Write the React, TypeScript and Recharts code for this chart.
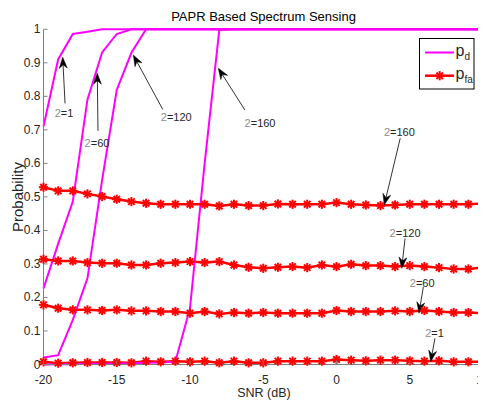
import React from 'react';
import { LineChart, Line, XAxis, YAxis, Legend, ReferenceLine, ReferenceDot, Customized } from 'recharts';

const snr = [-20, -19, -18, -17, -16, -15, -14, -13, -12, -11, -10, -9, -8, -7, -6, -5, -4, -3, -2, -1, 0, 1, 2, 3, 4, 5, 6, 7, 8, 9, 10];

const pd1 = [0.71, 0.91, 0.986, 0.993, 1, 1, 1, 1, 1, 1, 1, 1, 1, 1, 1, 1, 1, 1, 1, 1, 1, 1, 1, 1, 1, 1, 1, 1, 1, 1, 1];
const pd60 = [0.227, 0.36, 0.486, 0.79, 0.931, 0.986, 1, 1, 1, 1, 1, 1, 1, 1, 1, 1, 1, 1, 1, 1, 1, 1, 1, 1, 1, 1, 1, 1, 1, 1, 1];
const pd120 = [0.021, 0.028, 0.133, 0.257, 0.55, 0.819, 0.93, 1, 1, 1, 1, 1, 1, 1, 1, 1, 1, 1, 1, 1, 1, 1, 1, 1, 1, 1, 1, 1, 1, 1, 1];
const pd160 = [0, 0.001, 0.001, 0.002, 0.003, 0.003, 0.004, 0.005, 0.006, 0.008, 0.168, 0.6, 0.998, 1, 1, 1, 1, 1, 1, 1, 1, 1, 1, 1, 1, 1, 1, 1, 1, 1, 1];

const pfa1 = [0.008, 0.004, 0.005, 0.006, 0.006, 0.006, 0.005, 0.01, 0.008, 0.01, 0.008, 0.01, 0.005, 0.01, 0.005, 0.005, 0.01, 0.01, 0.01, 0.01, 0.015, 0.013, 0.011, 0.013, 0.013, 0.011, 0.01, 0.011, 0.008, 0.008, 0.008];
const pfa60 = [0.178, 0.168, 0.163, 0.163, 0.161, 0.163, 0.16, 0.16, 0.158, 0.158, 0.153, 0.158, 0.151, 0.155, 0.153, 0.155, 0.153, 0.153, 0.153, 0.153, 0.161, 0.158, 0.158, 0.158, 0.16, 0.158, 0.161, 0.158, 0.155, 0.155, 0.153];
const pfa120 = [0.314, 0.309, 0.309, 0.304, 0.302, 0.302, 0.297, 0.297, 0.302, 0.304, 0.307, 0.304, 0.307, 0.297, 0.29, 0.287, 0.29, 0.292, 0.289, 0.297, 0.292, 0.299, 0.295, 0.295, 0.292, 0.295, 0.292, 0.289, 0.285, 0.285, 0.289];
const pfa160 = [0.529, 0.518, 0.518, 0.509, 0.501, 0.493, 0.486, 0.481, 0.478, 0.478, 0.478, 0.478, 0.473, 0.478, 0.474, 0.474, 0.479, 0.478, 0.478, 0.478, 0.483, 0.478, 0.476, 0.474, 0.476, 0.478, 0.478, 0.478, 0.478, 0.478, 0.48];

const xTicks = [-20, -15, -10, -5, 0, 5, 10];
const yTicks = [0, 0.1, 0.2, 0.3, 0.4, 0.5, 0.6, 0.7, 0.8, 0.9, 1];

// annotation: text position + arrow from tail (x1,y1) to tip (x2,y2), data coordinates
const annLabels = ['1', '60', '120', '160', '160', '120', '60', '1'];
const annText = [[-18.6, 0.751], [-16.35, 0.662], [-10.94, 0.737], [-5.22, 0.721], [4.29, 0.695], [4.68, 0.391], [5.85, 0.244], [6.69, 0.095]];
const annTail = [[-18.53, 0.779], [-16.28, 0.697], [-11.86, 0.761], [-6.25, 0.759], [4.35, 0.675], [4.68, 0.376], [5.93, 0.232], [6.72, 0.078]];
const annTip = [[-18.69, 0.9165], [-16.33, 0.869], [-13.87, 0.923], [-8.07, 0.884], [3.26, 0.476], [4.45, 0.287], [5.63, 0.153], [6.43, 0.0085]];

const data = snr.map((s, i) => ({
  snr: s,
  pd1: pd1[i], pfa1: pfa1[i],
  pd60: pd60[i], pfa60: pfa60[i],
  pd120: pd120[i], pfa120: pfa120[i],
  pd160: pd160[i], pfa160: pfa160[i],
}));

const FONT = "'Liberation Sans Narrow', 'Arial Narrow', Arial, 'Liberation Sans', sans-serif";
const MAGENTA = '#FF00FF';
const RED = '#FF0000';
const AXIS = '#808080';
const TEXT = '#262626';

const Star = ({ cx, cy, size = 4.6 }: { cx: number; cy: number; size?: number }) => {
  const d = size * 0.7071;
  return (
    <g stroke={RED} strokeWidth={2}>
      <line x1={cx - size} y1={cy} x2={cx + size} y2={cy} />
      <line x1={cx} y1={cy - size} x2={cx} y2={cy + size} />
      <line x1={cx - d} y1={cy - d} x2={cx + d} y2={cy + d} />
      <line x1={cx - d} y1={cy + d} x2={cx + d} y2={cy - d} />
    </g>
  );
};

const renderStar = (p: any) => (
  <Star key={`s-${p.dataKey}-${p.index}`} cx={p.cx} cy={p.cy} />
);

const YTick = (p: any) => {
  const { x, y, payload } = p;
  return (
    <g>
      <line x1={x} x2={x + 4} y1={y} y2={y} stroke={AXIS} strokeWidth={1} />
      <text x={x - 3} y={y} textAnchor="end" dominantBaseline="central" fontFamily={FONT} fontSize={12} fill={TEXT}>
        {String(payload.value)}
      </text>
    </g>
  );
};

const XTick = (p: any) => {
  const { x, y, payload } = p;
  return (
    <g>
      <line x1={x} x2={x} y1={y} y2={y - 4} stroke={AXIS} strokeWidth={1} />
      <text x={x} y={y + 15.5} textAnchor="middle" dominantBaseline="central" fontFamily={FONT} fontSize={12} fill={TEXT}>
        {String(payload.value)}
      </text>
    </g>
  );
};

const Arrow = (p: any) => {
  const { x1, y1, x2, y2 } = p;
  if ([x1, y1, x2, y2].some((v) => typeof v !== 'number' || isNaN(v))) return <g />;
  const dx = x2 - x1;
  const dy = y2 - y1;
  const len = Math.sqrt(dx * dx + dy * dy) || 1;
  const ux = dx / len;
  const uy = dy / len;
  const nx = -uy;
  const ny = ux;
  const L = 11;
  const W = 4;
  const N = 3.5;
  const bx = x2 - ux * L;
  const by = y2 - uy * L;
  const mx = x2 - ux * (L - N);
  const my = y2 - uy * (L - N);
  const pts = `${x2},${y2} ${bx + nx * W},${by + ny * W} ${mx},${my} ${bx - nx * W},${by - ny * W}`;
  return (
    <g>
      <line x1={x1} y1={y1} x2={mx} y2={my} stroke="#000" strokeWidth={0.8} />
      <polygon points={pts} fill="#000" stroke="#000" strokeWidth={0.5} />
    </g>
  );
};

const makeLabel = (label: string) => (p: any) => (
  <text x={p.cx} y={p.cy} textAnchor="middle" dominantBaseline="central" fontFamily={FONT} fontSize={11} fill={TEXT}>
    <tspan fill="#8c8c8c">2</tspan>
    <tspan>={label}</tspan>
  </text>
);

const LegendBox = () => (
  <svg width={56} height={52} style={{ display: 'block' }}>
    <rect x={0.5} y={0.5} width={54.5} height={50.5} fill="#fff" stroke="#000" strokeWidth={1} />
    <line x1={6} x2={35} y1={14.5} y2={14.5} stroke={MAGENTA} strokeWidth={2} />
    <text x={36.5} y={18} fontFamily={FONT} fontSize={16} fill={TEXT}>
      p<tspan fontSize={10} dy={4}>d</tspan>
    </text>
    <line x1={6} x2={35} y1={37.7} y2={37.7} stroke={RED} strokeWidth={2.5} />
    <Star cx={20.7} cy={37.7} />
    <text x={36.5} y={41} fontFamily={FONT} fontSize={16} fill={TEXT}>
      p<tspan fontSize={10} dy={4}>fa</tspan>
    </text>
  </svg>
);

const Texts = () => (
  <g>
    <text x={255.5} y={8} textAnchor="middle" dominantBaseline="central" fontFamily={FONT} fontSize={13} fill="#000">
      PAPR Based Spectrum Sensing
    </text>
    <text x={256} y={385} textAnchor="middle" dominantBaseline="central" fontFamily={FONT} fontSize={12.5} fill={TEXT}>
      SNR (dB)
    </text>
    <text x={9.5} y={189} textAnchor="middle" dominantBaseline="central" fontFamily={FONT} fontSize={15} fill={TEXT} transform="rotate(-90 9.5 189)">
      Probability
    </text>
  </g>
);

const series: [string, string][] = [
  ['pd1', 'pfa1'],
  ['pd60', 'pfa60'],
  ['pd120', 'pfa120'],
  ['pd160', 'pfa160'],
];

export default function App() {
  return (
    <LineChart width={478} height={399} data={data} margin={{ top: 21.3, right: 3, bottom: 12.5, left: 0.5 }}>
      <XAxis
        dataKey="snr"
        type="number"
        domain={[-20, 10]}
        ticks={xTicks}
        interval={0}
        height={30}
        tickSize={0}
        tickMargin={0}
        tick={<XTick />}
        tickLine={false}
        axisLine={{ stroke: AXIS, strokeWidth: 1 }}
      />
      <YAxis
        type="number"
        domain={[0, 1]}
        ticks={yTicks}
        interval={0}
        width={35}
        tickSize={0}
        tickMargin={0}
        tick={<YTick />}
        tickLine={false}
        axisLine={{ stroke: AXIS, strokeWidth: 1 }}
      />
      {series.map(([pd, pfa]) => [
        <Line key={pd} type="linear" dataKey={pd} stroke={MAGENTA} strokeWidth={2} dot={false} activeDot={false} isAnimationActive={false} legendType="none" />,
        <Line key={pfa} type="linear" dataKey={pfa} stroke={RED} strokeWidth={2.5} dot={renderStar} activeDot={false} isAnimationActive={false} legendType="none" />,
      ])}
      {annLabels.map((lab, i) => (
        <ReferenceLine
          key={`arr-${i}`}
          segment={[{ x: annTail[i][0], y: annTail[i][1] }, { x: annTip[i][0], y: annTip[i][1] }]}
          ifOverflow="visible"
          stroke="#000"
          shape={Arrow}
        />
      ))}
      {annLabels.map((lab, i) => (
        <ReferenceDot
          key={`lab-${i}`}
          x={annText[i][0]}
          y={annText[i][1]}
          r={0}
          ifOverflow="visible"
          shape={makeLabel(lab)}
        />
      ))}
      <Legend
        layout="horizontal"
        verticalAlign="middle"
        align="center"
        content={<LegendBox />}
        wrapperStyle={{ left: 411, top: 30, width: 56, height: 52 }}
      />
      <Customized component={<Texts />} />
    </LineChart>
  );
}
